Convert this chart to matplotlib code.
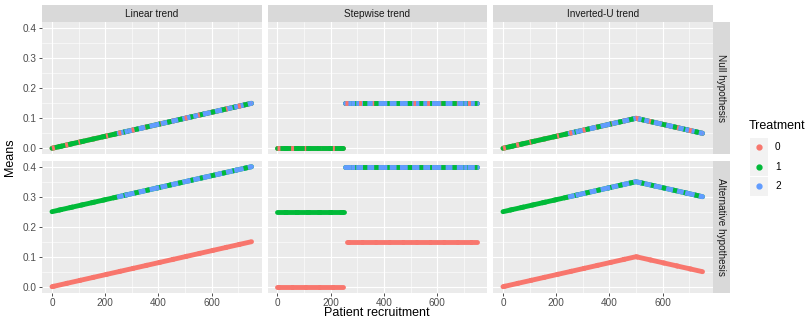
import matplotlib
matplotlib.use("Agg")
import matplotlib.pyplot as plt
from matplotlib.lines import Line2D
from matplotlib.patches import Rectangle

plt.rcParams['font.family'] = ['Liberation Sans', 'DejaVu Sans']

# ---------------- data ----------------
trends = ["Linear trend", "Stepwise trend", "Inverted-U trend"]
hypotheses = ["Null hypothesis", "Alternative hypothesis"]
arm_labels = ["0", "1", "2"]
arm_colors = ["#F8766D", "#00BA38", "#619CFF"]

# mean trajectories per arm: list of (patient index knots, mean knots) segments
null_linear = {
    0: [([0, 750], [0.00, 0.15])],
    1: [([0, 750], [0.00, 0.15])],
    2: [([250, 750], [0.05, 0.15])],
}
null_stepwise = {
    0: [([0, 248], [0.00, 0.00]), ([253, 750], [0.15, 0.15])],
    1: [([0, 248], [0.00, 0.00]), ([253, 750], [0.15, 0.15])],
    2: [([253, 750], [0.15, 0.15])],
}
null_invu = {
    0: [([0, 500, 750], [0.00, 0.10, 0.05])],
    1: [([0, 500, 750], [0.00, 0.10, 0.05])],
    2: [([250, 500, 750], [0.05, 0.10, 0.05])],
}
alt_linear = {
    0: [([0, 750], [0.00, 0.15])],
    1: [([0, 750], [0.25, 0.40])],
    2: [([250, 750], [0.30, 0.40])],
}
alt_stepwise = {
    0: [([0, 248], [0.00, 0.00]), ([262, 750], [0.15, 0.15])],
    1: [([0, 250], [0.25, 0.25]), ([253, 750], [0.40, 0.40])],
    2: [([253, 750], [0.40, 0.40])],
}
alt_invu = {
    0: [([0, 500, 750], [0.00, 0.10, 0.05])],
    1: [([0, 500, 750], [0.25, 0.35, 0.30])],
    2: [([250, 500, 750], [0.30, 0.35, 0.30])],
}
panels = [[null_linear, null_stepwise, null_invu],
          [alt_linear, alt_stepwise, alt_invu]]

y_ticks = [0.0, 0.1, 0.2, 0.3, 0.4]
x_ticks = [0, 200, 400, 600]

# ---------------- layout ----------------
W, H = 808, 320
fig = plt.figure(figsize=(W / 100, H / 100), dpi=100)
fig.patch.set_facecolor("white")


def rect(x0, y0, x1, y1):
    return [x0 / W, 1 - y1 / H, (x1 - x0) / W, (y1 - y0) / H]


col_x = [(42, 261.5), (267.5, 487), (493, 712.5)]
row_y = [(22.3, 154.3), (160.7, 292.7)]
strip_top = (5, 22.3)
strip_right = (712.5, 730)

bg = "#EBEBEB"
strip_bg = "#D9D9D9"
lw_pts = 3.5

dash_styles = {0: (0, (0.6, 2.2)), 1: (1.0, (0.9, 1.4)), 2: (2.0, (0.7, 2.6))}

for r in range(2):
    for c in range(3):
        ax = fig.add_axes(rect(col_x[c][0], row_y[r][0], col_x[c][1], row_y[r][1]))
        ax.set_facecolor(bg)
        ax.set_xlim(-37.5, 787.5)
        ax.set_ylim(-0.02, 0.42)
        for s in ax.spines.values():
            s.set_visible(False)
        ax.set_xticks(x_ticks)
        ax.set_yticks(y_ticks)
        ax.set_xticks([100, 300, 500, 700], minor=True)
        ax.set_yticks([0.05, 0.15, 0.25, 0.35], minor=True)
        ax.grid(True, which="major", color="white", linewidth=0.8)
        ax.grid(True, which="minor", color="white", linewidth=0.4)
        ax.set_axisbelow(True)
        ax.tick_params(which="minor", length=0)
        ax.tick_params(which="major", length=2.5, width=0.6, color="#333333",
                       labelsize=7.2, labelcolor="#4D4D4D", pad=1.5)
        if c == 0:
            ax.set_yticklabels([f"{v:.1f}" for v in y_ticks])
        else:
            ax.tick_params(axis="y", which="major", length=0, labelleft=False)
        if r == 1:
            ax.set_xticklabels([str(v) for v in x_ticks])
        else:
            ax.tick_params(axis="x", which="major", length=0, labelbottom=False)

        data = panels[r][c]
        # solid pass
        for a in range(3):
            for xs, ys in data[a]:
                ax.plot(xs, ys, color=arm_colors[a], linewidth=lw_pts,
                        solid_capstyle="round", solid_joinstyle="round", zorder=3)
        # interleaving pass (visible only where arms overlap)
        for a in [0, 1, 2]:
            for xs, ys in data[a]:
                ax.plot(xs, ys, color=arm_colors[a], linewidth=lw_pts,
                        linestyle=dash_styles[a], dash_capstyle="butt", zorder=4)

        if r == 0:
            sax = fig.add_axes(rect(col_x[c][0], strip_top[0], col_x[c][1], strip_top[1]))
            sax.set_facecolor(strip_bg)
            sax.set_xticks([]); sax.set_yticks([])
            for s in sax.spines.values():
                s.set_visible(False)
            sax.text(0.5, 0.5, trends[c], ha="center", va="center",
                     fontsize=7.2, color="#1A1A1A", transform=sax.transAxes)
        if c == 2:
            sax = fig.add_axes(rect(strip_right[0], row_y[r][0], strip_right[1], row_y[r][1]))
            sax.set_facecolor(strip_bg)
            sax.set_xticks([]); sax.set_yticks([])
            for s in sax.spines.values():
                s.set_visible(False)
            sax.text(0.5, 0.5, hypotheses[r], ha="center", va="center", rotation=-90,
                     fontsize=7.2, color="#1A1A1A", transform=sax.transAxes)

# axis titles
fig.text(10 / W, 1 - 157.5 / H, "Means", rotation=90, ha="center", va="center",
         fontsize=9, color="black")
fig.text(377 / W, 1 - 313 / H, "Patient recruitment", ha="center", va="center",
         fontsize=9, color="black")

# legend
fig.text(749 / W, 1 - 126 / H, "Treatment", ha="left", va="center", fontsize=9,
         color="black")
key_y = [147, 166.5, 186]
for i, lab in enumerate(arm_labels):
    fig.add_artist(Rectangle(((750) / W, 1 - (key_y[i] + 9.5) / H), 18 / W, 19 / H,
                             transform=fig.transFigure, facecolor="#F2F2F2",
                             edgecolor="none"))
for i, lab in enumerate(arm_labels):
    fig.add_artist(Line2D([759 / W], [1 - key_y[i] / H], marker="o", markersize=3.5,
                          color=arm_colors[i], linestyle="none",
                          transform=fig.transFigure))
    fig.text(775 / W, 1 - key_y[i] / H, lab, ha="left", va="center", fontsize=7.2,
             color="black")

fig.savefig("out.png", dpi=100)
